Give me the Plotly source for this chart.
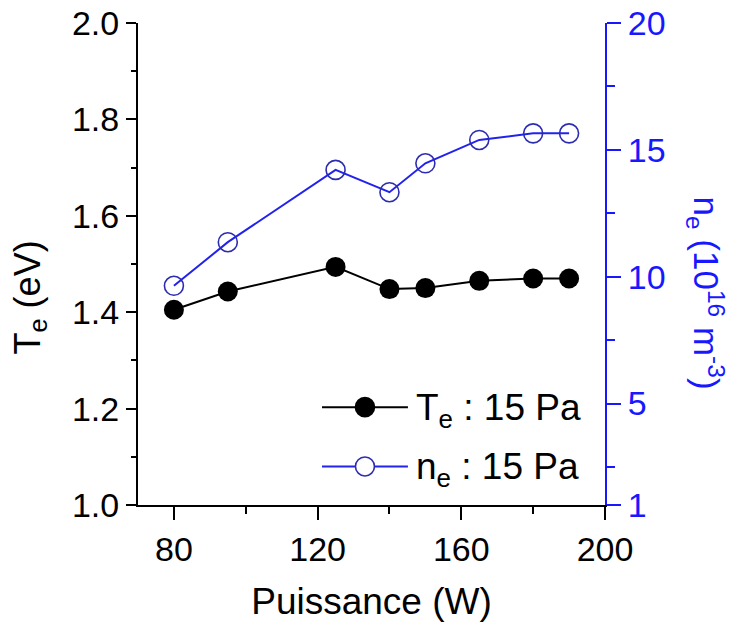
import plotly.graph_objects as go

# ---- data ----
power_w = [80, 95, 125, 140, 150, 165, 180, 190]
te_ev = [1.405, 1.443, 1.494, 1.448, 1.450, 1.465, 1.470, 1.470]
ne_1e16 = [9.64, 11.36, 14.21, 13.33, 14.47, 15.39, 15.65, 15.65]

x_ticks = [80, 120, 160, 200]
x_minor = [100, 140, 180]
te_ticks = [1.0, 1.2, 1.4, 1.6, 1.8, 2.0]
ne_ticks = [1, 5, 10, 15, 20]
ne_minor = [2.5, 7.5, 12.5, 17.5]
legend_labels = ["T<sub>e</sub> : 15 Pa", "n<sub>e</sub> : 15 Pa"]

FONT = "Arial, Liberation Sans, Helvetica, sans-serif"
BLUE_AX = "#1818ff"
BLUE_LINE = "#2222ee"
BLUE_MK = "#2c2cb0"

fig = go.Figure()
fig.add_trace(go.Scatter(
    x=power_w, y=te_ev, mode="lines+markers", name=legend_labels[0],
    line=dict(color="black", width=2),
    marker=dict(symbol="circle", size=20, color="black", line=dict(width=0)),
    xaxis="x", yaxis="y", showlegend=False,
))
fig.add_trace(go.Scatter(
    x=power_w, y=ne_1e16, mode="lines+markers", name=legend_labels[1],
    line=dict(color=BLUE_LINE, width=2),
    marker=dict(symbol="circle-open", size=19, color=BLUE_MK, line=dict(width=1.6)),
    xaxis="x", yaxis="y2", showlegend=False,
))

# ---- hand-drawn legend (long sample lines as in the reference) ----
leg_rows = [0.203, 0.080]
leg_x0, leg_x1, leg_xm, leg_tx = 0.394, 0.578, 0.486, 0.592
shapes = []
annotations = []
styles = [
    dict(line="black", fill="black", edge="black"),
    dict(line=BLUE_LINE, fill="white", edge=BLUE_MK),
]
for yr, st, lab in zip(leg_rows, styles, legend_labels):
    shapes.append(dict(type="line", xref="paper", yref="paper", x0=leg_x0, x1=leg_x1,
                       y0=yr, y1=yr, line=dict(color=st["line"], width=2)))
    shapes.append(dict(type="circle", xref="paper", yref="paper", xsizemode="pixel",
                       ysizemode="pixel", xanchor=leg_xm, yanchor=yr,
                       x0=-9.5, x1=9.5, y0=-9.5, y1=9.5,
                       fillcolor=st["fill"], line=dict(color=st["edge"], width=1.6)))
    annotations.append(dict(text=lab, xref="paper", yref="paper", x=leg_tx, y=yr,
                            xanchor="left", yanchor="middle", yshift=-3, showarrow=False,
                            font=dict(size=37, color="black", family=FONT)))

# axis titles for the two y axes (placed like the reference, slightly below centre)
annotations.append(dict(
    text="T<sub>e</sub> (eV)", textangle=-90,
    xref="paper", yref="paper", x=-0.232, y=0.43, xanchor="center", yanchor="middle",
    showarrow=False, font=dict(size=36, color="black", family=FONT),
))
annotations.append(dict(
    text="n<sub>e</sub> (10<sup>16</sup> m<sup>-3</sup>)", textangle=90,
    xref="paper", yref="paper", x=1.215, y=0.44, xanchor="center", yanchor="middle",
    showarrow=False, font=dict(size=35, color=BLUE_AX, family=FONT),
))

fig.update_layout(
    width=736, height=622,
    margin=dict(l=138, r=131, t=23, b=117),
    paper_bgcolor="white", plot_bgcolor="white",
    font=dict(family=FONT, size=34, color="black"),
    showlegend=False,
    xaxis=dict(
        range=[70, 200], tickvals=x_ticks, ticks="outside", ticklen=13, tickwidth=2,
        tickcolor="black", showline=True, linecolor="black", linewidth=2,
        showgrid=False, zeroline=False, automargin=False,
        minor=dict(tickvals=x_minor, ticks="outside", ticklen=7, tickwidth=2, tickcolor="black"),
        tickfont=dict(size=34),
        title=dict(text="Puissance (W)", font=dict(size=37), standoff=23),
    ),
    xaxis2=dict(
        overlaying="x", side="top", matches="x", range=[70, 200], tickvals=x_ticks,
        ticks="inside", ticklen=12, tickwidth=2, tickcolor="black",
        showticklabels=False, showline=True, linecolor="black", linewidth=2,
        showgrid=False, zeroline=False, automargin=False,
        minor=dict(tickvals=x_minor, ticks="inside", ticklen=6, tickwidth=2, tickcolor="black"),
    ),
    yaxis=dict(
        range=[1.0, 2.0], tickvals=te_ticks, tickformat=".1f", ticks="outside", ticklen=10,
        tickwidth=2, tickcolor="black", showline=True, linecolor="black", linewidth=2,
        showgrid=False, zeroline=False, automargin=False,
        minor=dict(tick0=1.0, dtick=0.1, ticks="outside", ticklen=5, tickwidth=2, tickcolor="black"),
        tickfont=dict(size=34),
    ),
    yaxis2=dict(
        overlaying="y", side="right", range=[1, 20], tickvals=ne_ticks,
        ticks="outside", ticklen=14, tickwidth=2, tickcolor=BLUE_AX,
        showline=True, linecolor=BLUE_AX, linewidth=2, showgrid=False, zeroline=False,
        automargin=False,
        minor=dict(tickvals=ne_minor, ticks="outside", ticklen=8, tickwidth=2, tickcolor=BLUE_AX),
        tickfont=dict(size=34, color=BLUE_AX),
    ),
    shapes=shapes,
    annotations=annotations,
)

fig.write_html("out.html", config={"displayModeBar": False},
               post_script="document.body.style.margin='0';")
